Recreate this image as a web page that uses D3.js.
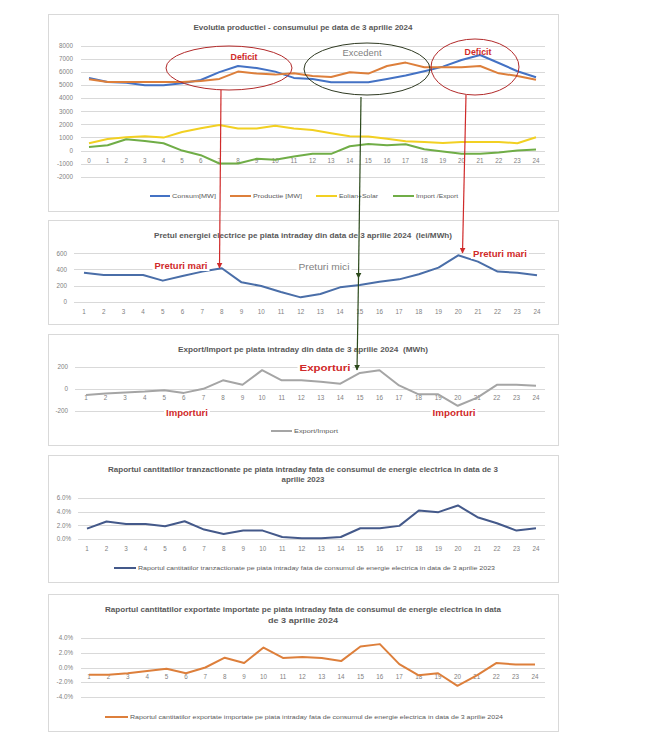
<!DOCTYPE html>
<html><head><meta charset="utf-8">
<script src="https://cdn.jsdelivr.net/npm/d3@7"></script>
<style>
html,body{margin:0;padding:0;background:#fff;}
svg{display:block;font-family:"Liberation Sans","DejaVu Sans",sans-serif;}
text{white-space:pre;}
</style></head>
<body><svg id="c" width="652" height="750"></svg>
<script>
// ---------- DATA ----------
const hours0 = [0,1,2,3,4,5,6,7,8,9,10,11,12,13,14,15,16,17,18,19,20,21,22,23,24];
const hours1 = [1,2,3,4,5,6,7,8,9,10,11,12,13,14,15,16,17,18,19,20,21,22,23,24];
const consum = [5560,5250,5180,5000,5000,5150,5400,6000,6470,6320,6040,5560,5470,5230,5230,5230,5480,5740,6070,6420,6930,7310,6700,6070,5610];
const productie = [5460,5250,5250,5250,5250,5250,5330,5480,6040,5890,5810,5910,5710,5630,5990,5890,6470,6730,6370,6370,6370,6470,5910,5710,5410];
const eolianSolar = [560,890,1015,1090,990,1420,1700,1950,1680,1680,1900,1680,1570,1320,1090,1070,910,710,660,580,660,660,660,560,1015];
const importExport = [280,410,860,740,560,0,-355,-990,-990,-630,-710,-460,-250,-250,330,510,410,480,100,-75,-250,-250,-150,0,75];
const pret = [360,331,331,331,261,319,373,414,240,195,120,54,95,178,207,248,277,340,422,575,497,373,360,327];
const exportImport = [-56,-43,-34,-25,-12,-37,0,78,37,171,78,78,65,47,146,171,31,-50,-50,-155,-81,37,37,28];
const raportTranz = [1.52,2.56,2.21,2.21,1.87,2.60,1.38,0.74,1.23,1.23,0.29,0.10,0.10,0.29,1.57,1.57,1.92,4.18,3.93,4.91,3.19,2.31,1.23,1.57];
const raportExpImp = [-0.97,-0.97,-0.78,-0.46,-0.18,-0.78,0,1.33,0.60,2.71,1.29,1.43,1.29,0.87,2.85,3.17,0.46,-1.06,-0.78,-2.48,-1.06,0.60,0.41,0.41];
const ticks1 = [-2000,-1000,0,1000,2000,3000,4000,5000,6000,7000,8000];
const ticks2 = [0,200,400,600];
const ticks3 = [-200,0,200];
const ticks4 = [0,2,4,6];
const ticks5 = [-4,-2,0,2,4];
const titles = [
 ["Evolutia productiei - consumului pe data de 3 aprilie 2024"],
 ["Pretul energiei electrice pe piata intraday din data de 3 aprilie 2024  (lei/MWh)"],
 ["Export/Import pe piata intraday din data de 3 aprilie 2024  (MWh)"],
 ["Raportul cantitatilor tranzactionate pe piata intraday fata de consumul de energie electrica in data de 3","aprilie 2023"],
 ["Raportul cantitatilor exportate importate pe piata intraday fata de consumul de energie electrica in data","de 3 aprilie 2024"]
];
const legend1 = ["Consum[MW]","Productie [MW]","Eolian+Solar","Import /Export"];
const legend3 = ["Export/Import"];
const legend4 = ["Raportul cantitatilor tranzactionate pe piata intraday fata de consumul de energie electrica in data de 3 aprilie 2023"];
const legend5 = ["Raportul cantitatilor exportate importate pe piata intraday fata de consumul de energie electrica in data de 3 aprilie 2024"];

// ---------- DRAWING ----------
const svg = d3.select("#c");
const gridC = "#d9d9d9", tickC = "#7f7f7f", titleC = "#595959";
const defs = svg.append("defs");
function marker(id, col){
  defs.append("marker").attr("id",id).attr("viewBox","0 0 10 10").attr("refX",9).attr("refY",5)
    .attr("markerWidth",5).attr("markerHeight",5).attr("orient","auto")
    .append("path").attr("d","M0,0L10,5L0,10Z").attr("fill",col);
}
marker("arR","#d02a2a"); marker("arG","#2c4a1c");

const panels = [[48,14,558,211],[48,220,558,324],[48,334,558,445],[48,455,558,582],[48,594,558,731]];
panels.forEach(p=>svg.append("rect").attr("x",p[0]+0.5).attr("y",p[1]+0.5).attr("width",p[2]-p[0]).attr("height",p[3]-p[1])
  .attr("fill","#fff").attr("stroke",gridC).attr("stroke-width",1));

function txt(g,x,y,s,o){
  const t = g.append("text").attr("x",x).attr("y",y).attr("dy","0.35em").text(s)
    .attr("font-size",o.size||7).attr("fill",o.fill||tickC).attr("text-anchor",o.anchor||"middle")
    .attr("font-weight",o.bold?"bold":"normal");
  if(o.len){t.attr("textLength",o.len).attr("lengthAdjust","spacingAndGlyphs");}
  return t;
}

function chart(cfg){
  const g = svg.append("g");
  const x = d3.scaleLinear().domain(cfg.xd).range(cfg.xr);
  const y = d3.scaleLinear().domain(cfg.yd).range(cfg.yr);
  g.selectAll("line.grid").data(cfg.yticks).join("line")
    .attr("x1",cfg.gx[0]).attr("x2",cfg.gx[1]).attr("y1",d=>Math.round(y(d))+0.5).attr("y2",d=>Math.round(y(d))+0.5)
    .attr("stroke",gridC).attr("stroke-width",1);
  cfg.yticks.forEach(d=>txt(g,cfg.ylx,y(d),cfg.yfmt(d),{anchor:"end",size:6.3}));
  cfg.cats.forEach(c=>txt(g,x(c),cfg.xly,String(c),{size:6.3}));
  cfg.title.forEach((t,i)=>txt(g,cfg.tx,cfg.ty[i],t,{bold:true,fill:titleC,size:8,len:cfg.tlen[i]}));
  cfg.series.forEach(s=>{
    g.append("path").datum(s.values).attr("fill","none").attr("stroke",s.color).attr("stroke-width",2)
      .attr("stroke-linejoin","round")
      .attr("d",d3.line().x((d,i)=>x(cfg.cats[i])).y(d=>y(d)));
  });
  (cfg.legend||[]).forEach((l,i)=>{
    g.append("line").attr("x1",l.x).attr("x2",l.x+l.w).attr("y1",cfg.ly).attr("y2",cfg.ly)
      .attr("stroke",cfg.series[i].color).attr("stroke-width",2);
    txt(g,l.x+l.w+2,cfg.ly,l.text,{anchor:"start",size:6,fill:"#595959",len:l.len});
  });
  return {g,x,y};
}

const cBlue="#4472c4", cOrange="#dd7f3b", cYellow="#f2d022", cGreen="#70ad47";

chart({xd:[0,24],xr:[89,536],yd:[-2000,8000],yr:[176.7,46],gx:[81,545],yticks:ticks1,ylx:73,
  yfmt:d=>String(d),cats:hours0,xly:161,title:titles[0],tx:303,ty:[27],tlen:[219],
  series:[{values:consum,color:cBlue},{values:productie,color:cOrange},{values:eolianSolar,color:cYellow},{values:importExport,color:cGreen}],
  ly:196,legend:[{x:150,w:20,text:legend1[0],len:44},{x:230,w:21,text:legend1[1],len:49},{x:316,w:21,text:legend1[2],len:39},{x:393,w:21,text:legend1[3],len:42}]});

chart({xd:[1,24],xr:[84,537],yd:[0,600],yr:[301.7,253.3],gx:[74,545],yticks:ticks2,ylx:67,
  yfmt:d=>String(d),cats:hours1,xly:312,title:titles[1],tx:303,ty:[235],tlen:[298],
  series:[{values:pret,color:"#4a6ea8"}]});

chart({xd:[1,24],xr:[86,536],yd:[-200,200],yr:[410.7,367],gx:[75,545],yticks:ticks3,ylx:68,
  yfmt:d=>String(d),cats:hours1,xly:398,title:titles[2],tx:303,ty:[349],tlen:[250],
  series:[{values:exportImport,color:"#a5a5a5"}],
  ly:431,legend:[{x:271,w:21,text:legend3[0],len:44}]});

chart({xd:[1,24],xr:[87,536],yd:[0,6],yr:[539,498],gx:[78,545],yticks:ticks4,ylx:71,
  yfmt:d=>d.toFixed(1)+"%",cats:hours1,xly:549,title:titles[3],tx:303,ty:[469,479],tlen:[390,43],
  series:[{values:raportTranz,color:"#44598a"}],
  ly:568,legend:[{x:114,w:22,text:legend4[0],len:357}]});

chart({xd:[1,24],xr:[89,535],yd:[-4,4],yr:[697,638],gx:[81,545],yticks:ticks5,ylx:73,
  yfmt:d=>d.toFixed(1)+"%",cats:hours1,xly:677,title:titles[4],tx:303,ty:[609,620],tlen:[396,70],
  series:[{values:raportExpImp,color:cOrange}],
  ly:717,legend:[{x:105,w:23,text:legend5[0],len:373}]});

// ---------- ANNOTATIONS ----------
const ann = svg.append("g");
function label(x,y,s,col,bold,size,len,bg){
  if(bg){ann.append("rect").attr("x",x-len/2-2).attr("y",y-5).attr("width",len+4).attr("height",10).attr("fill","#fff");}
  txt(ann,x,y,s,{fill:col,bold:bold,size:size,len:len});
}
const red="#d02a2a";
ann.append("ellipse").attr("cx",229).attr("cy",68).attr("rx",63).attr("ry",22).attr("fill","none").attr("stroke","#b22a2a").attr("stroke-width",1);
ann.append("ellipse").attr("cx",367).attr("cy",69).attr("rx",63).attr("ry",26).attr("fill","none").attr("stroke","#2f3a22").attr("stroke-width",1);
ann.append("ellipse").attr("cx",475).attr("cy",67).attr("rx",44).attr("ry",28).attr("fill","none").attr("stroke","#b22a2a").attr("stroke-width",1);
label(244,57,"Deficit",red,true,9.5,27,false);
label(362,53,"Excedent","#7f7f7f",false,9.5,39,false);
label(478,52,"Deficit",red,true,9.5,27,false);
label(181,266,"Preturi mari",red,true,8.5,53,true);
label(500,254,"Preturi mari",red,true,8.5,54,true);
label(324,267,"Preturi mici","#7f7f7f",false,8.5,51,true);
label(325,368,"Exporturi",red,true,8.5,51,true);
label(187,413,"Importuri",red,true,8.5,42,true);
label(454,413,"Importuri",red,true,8.5,43,true);
ann.append("line").attr("x1",221).attr("y1",90).attr("x2",219.5).attr("y2",268).attr("stroke",red).attr("stroke-width",1.2).attr("marker-end","url(#arR)");
ann.append("line").attr("x1",466).attr("y1",95).attr("x2",462.5).attr("y2",253).attr("stroke",red).attr("stroke-width",1.2).attr("marker-end","url(#arR)");
ann.append("line").attr("x1",361).attr("y1",97).attr("x2",358.5).attr("y2",278).attr("stroke","#2c4a1c").attr("stroke-width",1.2).attr("marker-end","url(#arG)");
ann.append("line").attr("x1",358.5).attr("y1",278).attr("x2",357).attr("y2",370).attr("stroke","#2c4a1c").attr("stroke-width",1.2).attr("marker-end","url(#arG)");
</script></body></html>
